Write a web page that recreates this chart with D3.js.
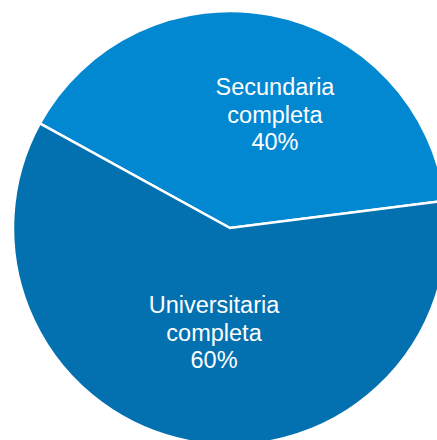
<!DOCTYPE html>
<html>
<head>
<meta charset="utf-8">
<script src="https://cdn.jsdelivr.net/npm/d3@7"></script>
<style>
  html, body { margin: 0; padding: 0; background: #ffffff; }
  svg { display: block; }
</style>
</head>
<body>
<script>
// Education level shares
const categories = ["Secundaria completa", "Universitaria completa"];
const labelLines = [["Secundaria", "completa"], ["Universitaria", "completa"]];
const values = [40, 60];
const colors = ["#0288d1", "#0370b0"];

const width = 437, height = 440;
const cx = 230, cy = 228, radius = 217;
const startAngle = -61.2 * Math.PI / 180;

const svg = d3.select("body").append("svg")
  .attr("width", width)
  .attr("height", height);

const g = svg.append("g").attr("transform", `translate(${cx},${cy})`);

const pie = d3.pie()
  .sort(null)
  .value(d => d)
  .startAngle(startAngle)
  .endAngle(startAngle + 2 * Math.PI);

const arcs = pie(values);

const arc = d3.arc().innerRadius(0).outerRadius(radius);
const labelArc = d3.arc().innerRadius(112).outerRadius(112);

g.selectAll("path.slice")
  .data(arcs)
  .join("path")
  .attr("class", "slice")
  .attr("d", arc)
  .attr("fill", (d, i) => colors[i])
  .attr("stroke", "#ffffff")
  .attr("stroke-width", 2.5)
  .attr("stroke-linejoin", "miter");

// label nudges so the text block sits where it reads best inside each slice
const nudges = [[24, -3.5], [5, -5.5]];
const fontSize = 23.5, lineGap = 27.5;

const labels = g.selectAll("text.label")
  .data(arcs)
  .join("text")
  .attr("class", "label")
  .attr("text-anchor", "middle")
  .attr("fill", "#ffffff")
  .attr("font-family", "'Liberation Sans', Arial, sans-serif")
  .attr("font-size", fontSize)
  .attr("transform", (d, i) => {
    const [x, y] = labelArc.centroid(d);
    return `translate(${x + nudges[i][0]},${y + nudges[i][1]})`;
  });

labels.each(function(d, i) {
  const lines = [...labelLines[i], d3.format(".0%")(d.value / d3.sum(values))];
  const t = d3.select(this);
  lines.forEach((line, k) => {
    t.append("tspan")
      .attr("x", 0)
      .attr("y", (k - 1) * lineGap + fontSize * 0.35)
      .text(line);
  });
});
</script>
</body>
</html>
